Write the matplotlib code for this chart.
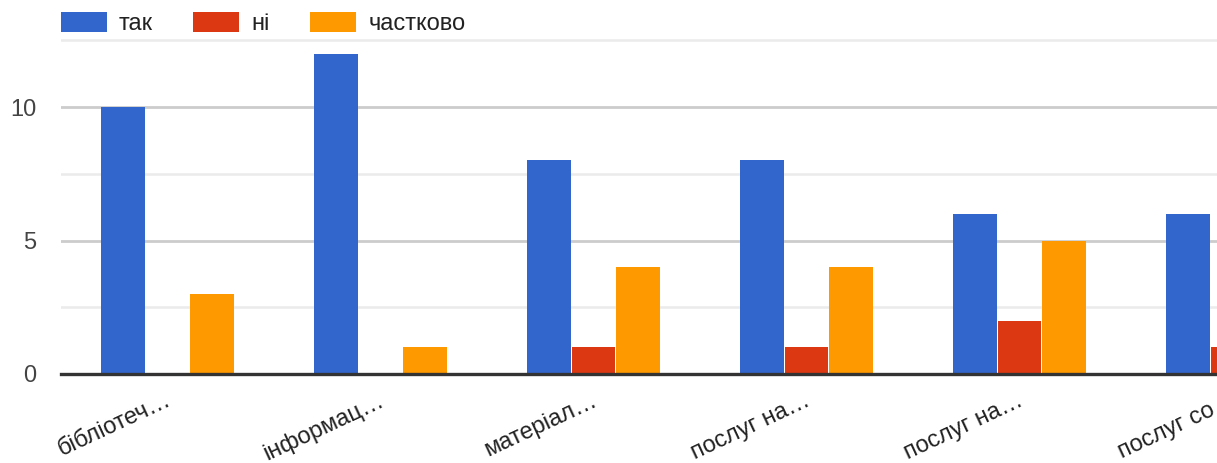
import numpy as np
import matplotlib
matplotlib.use("Agg")
import matplotlib.pyplot as plt
from matplotlib.transforms import ScaledTranslation

categories = ["бібліотеч…", "інформац…", "матеріал…", "послуг на…", "послуг на…", "послуг со…"]
series_names = ["так", "ні", "частково"]
tak = [10, 12, 8, 8, 6, 6]
ni = [0, 0, 1, 1, 2, 1]
chastkovo = [3, 1, 4, 4, 5, np.nan]  # last value lies outside the visible area
colors = ["#3366cc", "#dc3912", "#ff9900"]

plt.rcParams["font.family"] = ["Liberation Sans", "DejaVu Sans"]

W, H = 1217, 463
fig = plt.figure(figsize=(W / 100, H / 100), dpi=100)
band = 213.0
ymax = 12.6
unit = 26.7
ax = fig.add_axes([61 / W, (H - 374) / H, 6 * band / W, ymax * unit / H])

x = np.arange(len(categories))
bw = 0.203
step = 0.209
for i, (vals, name) in enumerate(zip([tak, ni, chastkovo], series_names)):
    ax.bar(x + (i - 1) * step, vals, width=bw, color=colors[i], label=name, zorder=2)

ax.set_xlim(-0.5, len(categories) - 0.5)
ax.set_ylim(0, ymax)
ax.set_yticks([0, 5, 10])
ax.set_yticks([2.5, 7.5, 12.5], minor=True)
ax.grid(axis="y", which="major", color="#cccccc", linewidth=2.0, zorder=0)
ax.grid(axis="y", which="minor", color="#ebebeb", linewidth=1.8, zorder=0)
ax.set_axisbelow(True)
ax.axhline(0, color="#333333", linewidth=2.4, zorder=3, clip_on=False)
for s in ax.spines.values():
    s.set_visible(False)

ax.set_xticks(x)
ax.tick_params(axis="x", length=0, pad=11)
ax.tick_params(axis="y", which="both", length=0, pad=18, labelsize=17, labelcolor="#444444")
ax.set_xticklabels(categories, rotation=25, ha="right", va="top", fontsize=17, color="#222222")
offset = ScaledTranslation(7 / 100, 0, fig.dpi_scale_trans)
for tick in ax.xaxis.get_major_ticks():
    tick.label1.set_transform(tick.label1.get_transform() + offset)

leg = fig.legend(loc="upper left", bbox_to_anchor=(61 / W, 1 - 12 / H), ncol=3, frameon=False,
                 fontsize=17, handlelength=1.95, handleheight=0.95, handletextpad=0.5,
                 columnspacing=1.72, borderpad=0, borderaxespad=0)
for t in leg.get_texts():
    t.set_color("#222222")

fig.savefig("out.png", dpi=100)
